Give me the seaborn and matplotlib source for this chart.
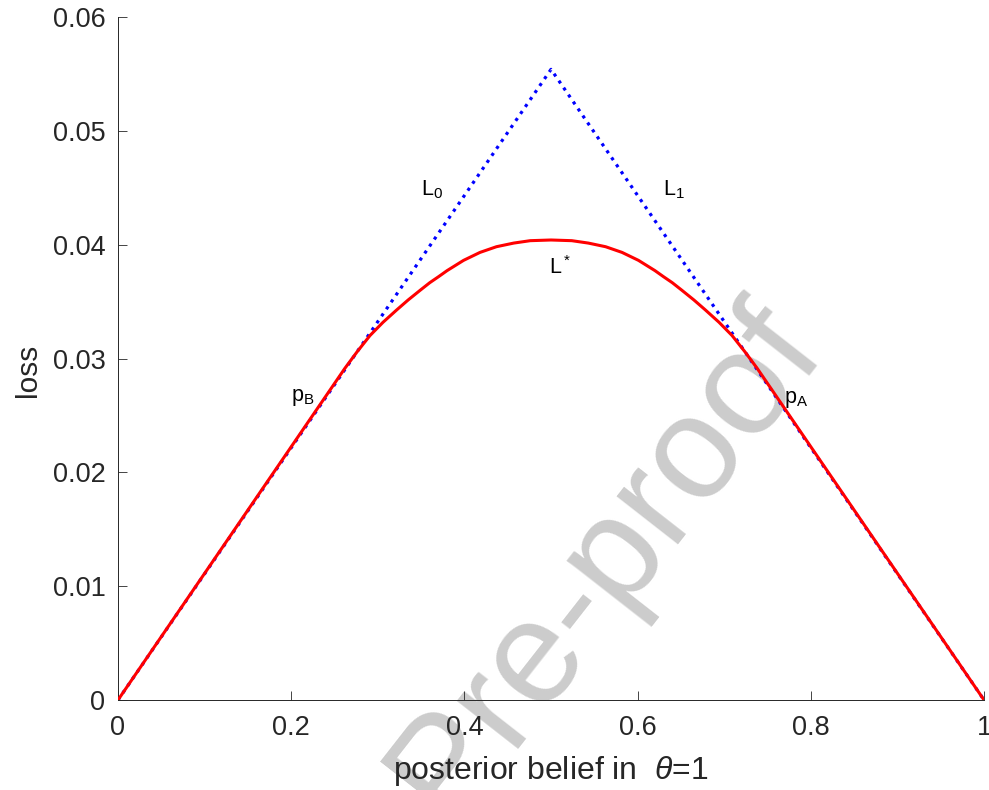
import matplotlib
matplotlib.use("Agg")
import matplotlib.pyplot as plt
import seaborn as sns
import pandas as pd

# Expected loss of the two actions (dotted tent) and the optimal loss L* (solid)
tent_belief = [0.0, 0.5, 1.0]
tent_loss = [0.0, 0.0554, 0.0]

opt_belief = [0.000, 0.262, 0.276, 0.291, 0.306, 0.322, 0.335, 0.349, 0.360,
              0.370, 0.380, 0.399, 0.418, 0.437, 0.457, 0.476, 0.500,
              0.524, 0.543, 0.563, 0.582, 0.601, 0.620, 0.630, 0.640,
              0.651, 0.665, 0.678, 0.694, 0.709, 0.724, 0.738, 1.000]
opt_loss = [0.0, 0.02914, 0.03058, 0.03202, 0.03318, 0.03428, 0.03514, 0.03600, 0.03666,
            0.03718, 0.03772, 0.03862, 0.03932, 0.03982, 0.04014, 0.04035, 0.04041,
            0.04035, 0.04014, 0.03982, 0.03932, 0.03862, 0.03772, 0.03718, 0.03666,
            0.03600, 0.03514, 0.03428, 0.03318, 0.03202, 0.03058, 0.02914, 0.0]

x_ticks = [0, 0.2, 0.4, 0.6, 0.8, 1.0]
x_tick_labels = ["0", "0.2", "0.4", "0.6", "0.8", "1"]
y_ticks = [0, 0.01, 0.02, 0.03, 0.04, 0.05, 0.06]
y_tick_labels = ["0", "0.01", "0.02", "0.03", "0.04", "0.05", "0.06"]

# curve annotations: (text, x, y)
annotations = [
    (r"$\mathrm{L}_0$", 0.3626, 0.0448),
    (r"$\mathrm{L}_1$", 0.642, 0.0448),
    (r"$\mathrm{L}^*$", 0.510, 0.0380),
    (r"$\mathrm{p}_\mathrm{B}$", 0.2136, 0.0266),
    (r"$\mathrm{p}_\mathrm{A}$", 0.783, 0.0264),
]

sns.set_theme(style="ticks")
ink = "#262626"
plt.rcParams.update({
    "font.family": ["Liberation Sans", "DejaVu Sans"],
    "mathtext.fontset": "custom",
    "mathtext.rm": "Liberation Sans",
    "mathtext.it": "Liberation Sans:italic",
    "mathtext.sf": "Liberation Sans",
    "xtick.direction": "in",
    "ytick.direction": "in",
    "axes.edgecolor": ink,
    "xtick.color": ink,
    "ytick.color": ink,
    "text.color": ink,
    "axes.labelcolor": ink,
})

fig = plt.figure(figsize=(9.89, 7.90), dpi=100)
fig.patch.set_facecolor("white")
ax = fig.add_axes([0.1193, 0.1139, 0.995 - 0.1193, 0.9785 - 0.1139])
ax.patch.set_alpha(0)

tent = pd.DataFrame({"belief": tent_belief, "loss": tent_loss})
opt = pd.DataFrame({"belief": opt_belief, "loss": opt_loss})

sns.lineplot(data=tent, x="belief", y="loss", ax=ax, color="#0000ff",
             linewidth=2.3, linestyle=":", sort=False, zorder=2)
sns.lineplot(data=opt, x="belief", y="loss", ax=ax, color="#ff0000",
             linewidth=2.2, sort=False, zorder=3)

for txt, x, y in annotations:
    ax.text(x, y, txt, fontsize=15.5, ha="center", va="center", color="black")

ax.set_xlim(0, 1)
ax.set_ylim(0, 0.06)
ax.set_xticks(x_ticks)
ax.set_xticklabels(x_tick_labels)
ax.set_yticks(y_ticks)
ax.set_yticklabels(y_tick_labels)
ax.tick_params(axis="both", labelsize=19.5, length=6.3, width=0.6)
ax.tick_params(axis="x", pad=11)
ax.tick_params(axis="y", pad=9)
for side in ["top", "right"]:
    ax.spines[side].set_visible(False)
for side in ["left", "bottom"]:
    ax.spines[side].set_linewidth(0.7)

ax.set_xlabel(r"posterior belief in  $\mathit{\theta}$=1", fontsize=23)
ax.set_ylabel("loss", fontsize=21.5)
ax.xaxis.set_label_coords(0.5, -0.079)
ax.yaxis.set_label_coords(-0.088, 0.483)

# stamp across the figure, beneath the axes content
fig.text(0.612, 0.29, "Pre-proof", fontsize=105, color="#cccccc",
         rotation=52, ha="center", va="center", zorder=-1)

fig.savefig("out.png", dpi=100, facecolor="white")
